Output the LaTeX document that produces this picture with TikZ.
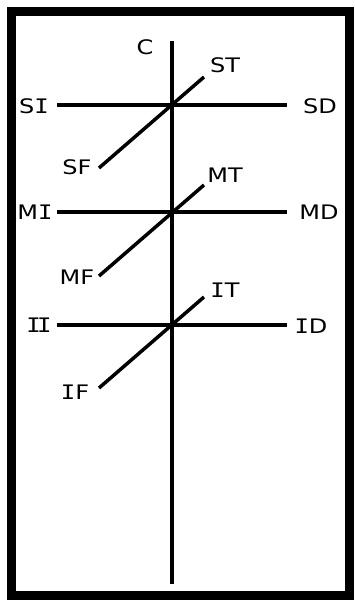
\documentclass[tikz,border=0pt]{standalone}
\usepackage{fontspec}
\setmainfont{DejaVu Sans}
\newfontfamily\serifI{DejaVu Sans Mono}
\newcommand{\Ib}{{\serifI I}}
\begin{document}
\begin{tikzpicture}[x=1pt,y=-1pt,
  lbl/.style={inner sep=0pt, font=\fontsize{20}{20}\selectfont, xscale=1.2},
  axis/.style={line width=3.5pt}]
\useasboundingbox (0,0) rectangle (354,601);
\draw[line width=9pt] (11.5,11.5) rectangle (349.5,595.5);
% coordinates
\coordinate (Ctop) at (172,41);
\coordinate (Cbot) at (172,584);
\coordinate (SIe) at (57,105);
\coordinate (SDe) at (287,105);
\coordinate (SFe) at (99,168);
\coordinate (STe) at (204,77);
\coordinate (MIe) at (57,212);
\coordinate (MDe) at (287,212);
\coordinate (MFe) at (99,276);
\coordinate (MTe) at (204,185);
\coordinate (IIe) at (57,325);
\coordinate (IDe) at (287,325);
\coordinate (IFe) at (99,388);
\coordinate (ITe) at (204,297);
% lines
\draw[axis] (Ctop) -- (Cbot);
\draw[axis] (SIe) -- (SDe);
\draw[axis] (SFe) -- (STe);
\draw[axis] (MIe) -- (MDe);
\draw[axis] (MFe) -- (MTe);
\draw[axis] (IIe) -- (IDe);
\draw[axis] (IFe) -- (ITe);
% labels
\node[lbl] (C) at (145,47) {C};
\node[lbl] (ST) at (225,65) {ST};
\node[lbl] (SI) at (34,106) {S\Ib};
\node[lbl] (SD) at (320,106) {SD};
\node[lbl] (SF) at (77,167) {SF};
\node[lbl] (MT) at (225,175) {MT};
\node[lbl] (MI) at (35,212) {M\Ib};
\node[lbl] (MD) at (319,212) {MD};
\node[lbl] (MF) at (77,277) {MF};
\node[lbl] (IT) at (225,290) {\Ib T};
\node[lbl] (II) at (39,325) {\Ib\kern-3pt\Ib};
\node[lbl] (ID) at (311,326) {\Ib D};
\node[lbl] (IF) at (75,392) {\Ib F};
\end{tikzpicture}
\end{document}
